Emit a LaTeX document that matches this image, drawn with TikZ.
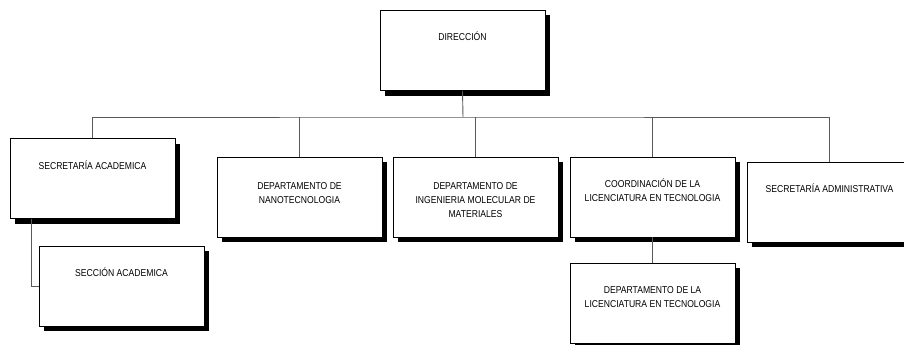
\documentclass[tikz,border=0pt]{standalone}
\usepackage{fontspec}
\setmainfont[FakeStretch=0.86]{Liberation Sans}
\usetikzlibrary{shadows,calc}
\begin{document}
\begin{tikzpicture}[x=1pt,y=-1pt,
  box/.style={draw=black,line width=0.8pt,fill=white,minimum width=165pt,minimum height=80pt,inner sep=0pt,
    drop shadow={shadow xshift=5pt,shadow yshift=-5pt,fill=black,opacity=1}},
  txt/.style={align=center,inner sep=0pt,anchor=north,font=\fontsize{10pt}{14pt}\selectfont},
  conn/.style={draw=black!65,line width=0.9pt}]
\useasboundingbox (0,0) rectangle (904,345);
\node[box] (dir) at (462.5,50.5) {};
\node[box] (secac) at (92.5,178.5) {};
\node[box] (secc) at (121.5,286) {};
\node[box] (nano) at (299.5,197) {};
\node[box] (ing) at (475.5,197) {};
\node[box] (coord) at (652.5,197) {};
\node[box] (adm) at (829.5,202) {};
\node[box] (lic) at (652.5,303) {};
\node[txt] at ($(dir.north)+(0,20)$) {\strut DIRECCIÓN};
\node[txt] at ($(secac.north)+(0,21)$) {\strut SECRETARÍA ACADEMICA};
\node[txt] at ($(secc.north)+(0,21)$) {\strut SECCIÓN ACADEMICA};
\node[txt] at ($(nano.north)+(0,23)$) {\strut DEPARTAMENTO DE\\NANOTECNOLOGIA};
\node[txt] at ($(ing.north)+(0,23)$) {\strut DEPARTAMENTO DE\\INGENIERIA MOLECULAR DE\\MATERIALES};
\node[txt] at ($(coord.north)+(0,20.5)$) {\strut COORDINACIÓN DE LA\\LICENCIATURA EN TECNOLOGIA};
\node[txt] at ($(adm.north)+(0,20.5)$) {\strut SECRETARÍA ADMINISTRATIVA};
\node[txt] at ($(lic.north)+(0,21)$) {\strut DEPARTAMENTO DE LA\\LICENCIATURA EN TECNOLOGIA};
\coordinate (bus) at (463,117);
\draw[conn] (dir.south) -- (bus);
\draw[conn] (secac.north) |- (bus) -| (adm.north);
\draw[conn] (nano.north) -- (nano.north |- bus);
\draw[conn] (ing.north) -- (ing.north |- bus);
\draw[conn] (coord.north) -- (coord.north |- bus);
\draw[conn] (coord.south) -- (lic.north);
\draw[conn] ($(secac.south west)+(22,0)$) |- (secc.west);
\end{tikzpicture}
\end{document}
